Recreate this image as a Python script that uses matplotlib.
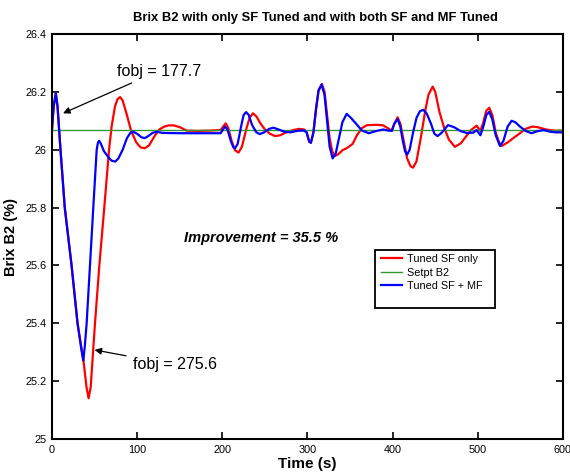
import matplotlib
matplotlib.use("Agg")
import matplotlib.pyplot as plt
from matplotlib.patches import Rectangle

plt.rcParams['font.family'] = ['Liberation Sans', 'DejaVu Sans']

# Tuned SF only (red)
t_sf = [0, 2, 4.5, 6.5, 10, 15, 23, 30, 37, 40.5, 43, 45.5, 47.5, 50.5, 55.6, 61.4, 67, 70, 74, 77, 80, 83, 87, 93, 99, 104, 109, 114, 120, 126, 132, 137, 143, 150, 158, 170, 185, 198, 201, 204, 207, 211, 215, 219, 223, 228, 232, 236, 240, 245, 250, 256, 262, 268, 275, 283, 290, 296, 299, 302, 304, 307, 310, 313, 317, 320, 323, 326, 329, 332, 336, 341, 346, 353, 358, 364, 370, 382, 389, 394, 399, 402, 405.8, 409, 413, 417, 421, 424, 428, 433, 438, 442, 447, 450, 455, 460, 466, 473, 480, 486, 492, 498.6, 503, 506, 510, 513.4, 517, 521, 525, 528, 535, 541.6, 549.5, 556, 564, 570, 580, 590, 600]
y_sf = [26.07, 26.15, 26.195, 26.15, 26.0, 25.8, 25.6, 25.4, 25.27, 25.18, 25.141, 25.18, 25.27, 25.4, 25.6, 25.8, 26.0, 26.08, 26.15, 26.175, 26.182, 26.17, 26.13, 26.065, 26.025, 26.008, 26.005, 26.015, 26.045, 26.07, 26.08, 26.084, 26.084, 26.078, 26.066, 26.065, 26.066, 26.068, 26.08, 26.091, 26.075, 26.03, 25.998, 25.99, 26.01, 26.07, 26.11, 26.126, 26.115, 26.09, 26.07, 26.055, 26.047, 26.05, 26.06, 26.068, 26.072, 26.07, 26.06, 26.028, 26.024, 26.06, 26.14, 26.205, 26.227, 26.2, 26.12, 26.04, 25.995, 25.978, 25.984, 25.998, 26.005, 26.02, 26.05, 26.075, 26.085, 26.086, 26.084, 26.075, 26.066, 26.09, 26.112, 26.09, 26.03, 25.97, 25.943, 25.938, 25.96, 26.04, 26.13, 26.19, 26.218, 26.2, 26.13, 26.08, 26.035, 26.01, 26.022, 26.045, 26.068, 26.083, 26.065, 26.09, 26.135, 26.145, 26.12, 26.06, 26.025, 26.013, 26.025, 26.04, 26.057, 26.072, 26.08, 26.078, 26.07, 26.066, 26.066]

# Setpoint B2 (green)
t_sp = [0, 600]
y_sp = [26.067, 26.067]

# Tuned SF + MF (blue)
t_mf = [0, 2, 4.5, 6.5, 10, 15, 23, 30, 34.5, 36.8, 38.5, 40.7, 44.6, 48.5, 52.5, 54, 55.5, 57.5, 61, 66, 70, 74.3, 78, 83, 88, 92, 95.5, 100, 105, 109, 113, 118, 123, 130, 150, 180, 198, 203, 206, 210, 213, 215, 218, 222, 225, 228, 231, 235, 240, 244, 249, 255, 260, 266, 273, 280, 286, 291, 296, 299, 302, 304, 307, 310, 313, 316.5, 320, 323, 326, 329.5, 333, 337, 341, 346, 351, 357, 364, 372, 380, 389, 395, 399, 402, 405.8, 409, 412, 414.5, 417, 420, 424, 428, 432, 436, 440, 445, 449, 452.8, 458, 465, 472, 480, 487, 494.7, 498.6, 503, 506, 510, 513.4, 517, 521, 526, 530, 535, 539.7, 544, 549.5, 556, 563, 570, 577, 585, 592, 600]
y_mf = [26.07, 26.15, 26.195, 26.15, 26.0, 25.8, 25.6, 25.4, 25.31, 25.271, 25.32, 25.4, 25.6, 25.8, 26.0, 26.025, 26.031, 26.02, 25.995, 25.975, 25.962, 25.959, 25.97, 26.0, 26.04, 26.058, 26.062, 26.055, 26.043, 26.04, 26.047, 26.058, 26.062, 26.058, 26.057, 26.057, 26.057, 26.08, 26.07, 26.03, 26.008, 26.005, 26.02, 26.08, 26.12, 26.13, 26.12, 26.085, 26.06, 26.054, 26.06, 26.072, 26.076, 26.07, 26.062, 26.06, 26.064, 26.066, 26.066, 26.06, 26.028, 26.024, 26.06, 26.14, 26.205, 26.225, 26.19, 26.1, 26.01, 25.97, 25.985, 26.04, 26.095, 26.124, 26.11, 26.09, 26.066, 26.057, 26.064, 26.07, 26.066, 26.065, 26.09, 26.106, 26.08, 26.03, 25.995, 25.983, 26.0, 26.06, 26.11, 26.133, 26.138, 26.125, 26.09, 26.055, 26.047, 26.06, 26.085, 26.078, 26.064, 26.058, 26.059, 26.068, 26.05, 26.075, 26.12, 26.131, 26.105, 26.05, 26.013, 26.03, 26.08, 26.1, 26.095, 26.08, 26.065, 26.057, 26.064, 26.068, 26.062, 26.06, 26.06]

x_ticks = [0, 100, 200, 300, 400, 500, 600]
y_ticks = [25, 25.2, 25.4, 25.6, 25.8, 26, 26.2, 26.4]
y_tick_labels = ['25', '25.2', '25.4', '25.6', '25.8', '26', '26.2', '26.4']

fig = plt.figure(figsize=(5.70, 4.76), dpi=100)
ax = fig.add_axes([0.0912, 0.0777, 0.8965, 0.8509])

ax.plot(t_sf, y_sf, color='#ff0000', lw=1.6, label='Tuned SF only')
ax.plot(t_sp, y_sp, color='#339933', lw=1.0, label='Setpt B2')
ax.plot(t_mf, y_mf, color='#0000ff', lw=1.6, label='Tuned SF + MF')

ax.set_xlim(0, 600)
ax.set_ylim(25, 26.4)
ax.set_xticks(x_ticks)
ax.set_xticklabels([str(v) for v in x_ticks])
ax.set_yticks(y_ticks)
ax.set_yticklabels(y_tick_labels)
ax.tick_params(direction='in', length=5, width=1.2, labelsize=7.8,
               top=True, right=True, labeltop=False, labelright=False, pad=4)
for s in ax.spines.values():
    s.set_linewidth(1.5)

fig.text(315 / 570, 1 - 18 / 476, 'Brix B2 with only SF Tuned and with both SF and MF Tuned',
         fontsize=9.4, fontweight='bold', ha='center', va='center')
ax.set_xlabel('Time (s)', fontsize=11, fontweight='bold', labelpad=2)
ax.set_ylabel('Brix B2 (%)', fontsize=10.5, fontweight='bold', labelpad=5)

ax.text(245, 25.695, 'Improvement = 35.5 %', fontsize=10.5, fontweight='bold',
        fontstyle='italic', ha='center', va='center')

ax.annotate('fobj = 177.7', xy=(13, 26.126), xytext=(76, 26.272),
            fontsize=11.5, va='center', ha='left',
            arrowprops=dict(arrowstyle='-|>', color='black', lw=0.9,
                            shrinkA=3, shrinkB=0, mutation_scale=10))
ax.annotate('fobj = 275.6', xy=(50, 25.308), xytext=(95, 25.256),
            fontsize=11.5, va='center', ha='left',
            arrowprops=dict(arrowstyle='-|>', color='black', lw=0.9,
                            shrinkA=3, shrinkB=0, mutation_scale=10))

leg = ax.legend(loc='upper left', bbox_to_anchor=(0.644, 0.457), fontsize=7.8,
                frameon=False, borderpad=0, labelspacing=0.34, handlelength=1.9,
                handletextpad=0.5, borderaxespad=0)
ax.add_patch(Rectangle((0.632, 0.323), 0.2348, 0.144, transform=ax.transAxes,
                       fill=False, edgecolor='black', lw=1.3, zorder=5))

fig.savefig('out.png', dpi=100)
